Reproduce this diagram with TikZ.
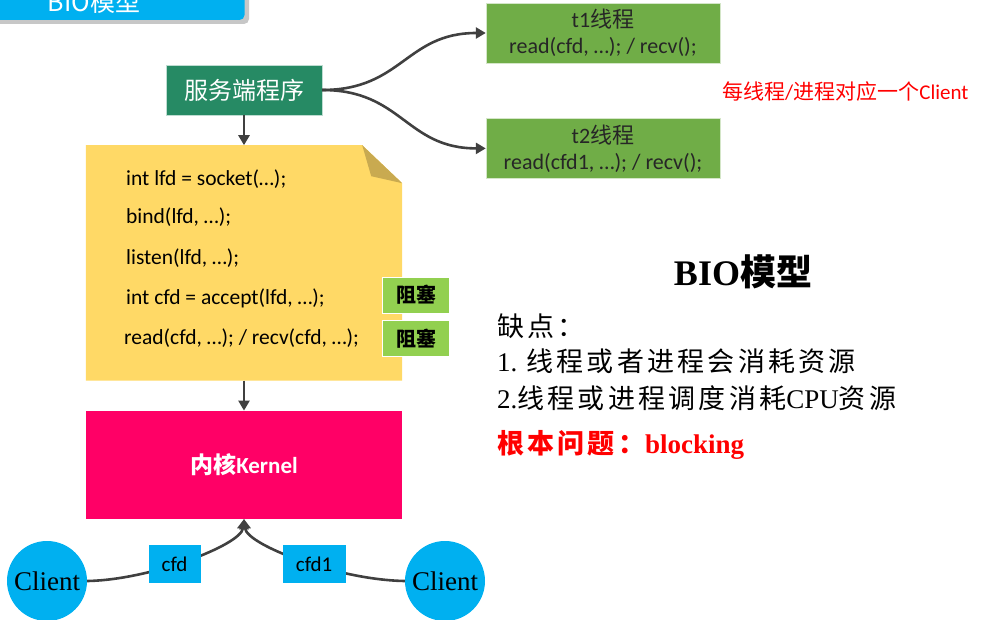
\documentclass[tikz,border=0pt]{standalone}
\usepackage{fontspec}
\setmainfont{Carlito}
\newfontfamily\cjk{Noto Sans CJK SC}
\newfontfamily\cjkwide[LetterSpace=12]{Noto Sans CJK SC}
\newfontfamily\serifft{Liberation Serif}
\usepackage{tikz}
\usetikzlibrary{
  arrows.meta,
  positioning
}
\newcommand{\zh}[1]{{\cjk #1}}
\newcommand{\zs}[1]{{\cjkwide #1}}
\newcommand{\lat}[1]{{\serifft #1}}
\definecolor{bioblue}{RGB}{0,176,240}
\definecolor{bioteal}{RGB}{38,138,100}
\definecolor{bioleaf}{RGB}{112,173,71}
\definecolor{bioyellow}{RGB}{255,217,102}
\definecolor{biofold}{RGB}{201,170,80}
\definecolor{biolime}{RGB}{146,208,80}
\definecolor{biopink}{RGB}{255,0,102}
\definecolor{biogray}{RGB}{64,64,64}
\definecolor{biored}{RGB}{255,0,0}
\tikzset{
  bioTab/.style={
    rectangle,
    rounded corners=5pt,
    fill=bioblue,
    minimum width=255pt,
    minimum height=60pt
  },
  bioServer/.style={
    rectangle,
    fill=bioteal,
    draw=white!70!bioteal,
    text=white,
    inner sep=0pt,
    minimum width=156pt,
    minimum height=50pt,
    font=\fontsize{24}{28}\selectfont
  },
  bioThread/.style={
    rectangle,
    fill=bioleaf,
    draw=white!70!bioleaf,
    text=black!85,
    inner sep=0pt,
    minimum width=234pt,
    minimum height=60pt,
    align=center,
    font=\fontsize{22}{26}\selectfont
  },
  bioBlock/.style={
    rectangle,
    fill=biolime,
    draw=white,
    inner sep=0pt,
    minimum width=67pt,
    minimum height=36pt,
    font=\fontsize{20}{22}\selectfont\bfseries
  },
  bioKernel/.style={
    rectangle,
    fill=biopink,
    text=white,
    inner sep=0pt,
    minimum width=316pt,
    minimum height=108pt,
    font=\fontsize{23}{26}\selectfont\bfseries
  },
  bioClient/.style={
    circle,
    fill=bioblue,
    inner sep=0pt,
    minimum size=80pt,
    font=\fontsize{27}{30}\selectfont
  },
  bioTag/.style={
    rectangle,
    fill=bioblue,
    inner sep=0pt,
    minimum width=52pt,
    minimum height=38pt,
    font=\fontsize{21}{24}\selectfont
  },
  bioCode/.style={
    anchor=west,
    inner sep=0pt,
    font=\fontsize{21.5}{24}\selectfont
  },
  bioText/.style={
    anchor=west,
    inner sep=0pt,
    font=\fontsize{27}{32}\selectfont
  },
  bioArrow/.style={
    -{Triangle[length=10pt,width=11pt]},
    line width=2.6pt,
    draw=biogray
  }
}

\begin{document}
\begin{tikzpicture}[x=1pt, y=-1pt]
  \useasboundingbox (0,0) rectangle (989,620);

  % tab at the top, cut by the page edge
  \begin{scope}
    \clip (0,0) rectangle (989,620);
    \fill[black!22, rounded corners=5pt] (-6,-36) rectangle (249,24);
    \node[bioTab] (tab) at (117,-10) {};
    \node[text=white, inner sep=0pt, anchor=base,
      font=\fontsize{25}{28}\selectfont] (tabtext) at (94,12) {\zh{BIO模型}};
  \end{scope}

  \node[bioServer] (server) at (244,90) {\zh{服务端程序}};

  \node[inner sep=0pt, minimum width=316pt, minimum height=235pt,
    below=30pt of server] (code) {};
  \fill[bioyellow] (code.north west) -- ([xshift=-40pt]code.north east)
    -- ([yshift=-38pt]code.north east) -- (code.south east)
    -- (code.south west) -- cycle;
  \fill[biofold] ([xshift=-40pt]code.north east)
    -- ([xshift=-31pt, yshift=-31pt]code.north east)
    -- ([yshift=-38pt]code.north east) -- cycle;

  \node[bioCode] (line1) at (126,179) {int lfd = socket(…);};
  \node[bioCode] (line2) at (126,217) {bind(lfd, …);};
  \node[bioCode] (line3) at (126,258) {listen(lfd, …);};
  \node[bioCode] (line4) at (126,298) {int cfd = accept(lfd, …);};
  \node[bioCode] (line5) at (124,338) {read(cfd, …); / recv(cfd, …);};

  \node[bioBlock] (block1) at (416,295) {\zh{阻塞}};
  \node[bioBlock, below=7pt of block1] (block2) {\zh{阻塞}};

  \node[bioKernel, below=30pt of code] (kernel) {\zh{内核}Kernel};

  \node[bioThread] (t1) at (603,33)
    {t1\zh{线程}\\read(cfd, …); / recv();};
  \node[bioThread, below=55pt of t1] (t2)
    {t2\zh{线程}\\read(cfd1, …); / recv();};

  \node[text=biored, anchor=west, inner sep=0pt,
    font=\fontsize{21}{24}\selectfont] (note) at (722,92)
    {\zh{每线程}/\zh{进程对应一个}Client};

  \node[inner sep=0pt, font=\fontsize{36}{40}\selectfont\bfseries]
    (title) at (743,272) {\lat{BIO}\zh{模型}};

  \node[bioText] (cons) at (497,326) {\zs{缺点：}};
  \node[bioText] (item1) at (497,361) {\lat{1. }\zs{线程或者进程会消耗资源}};
  \node[bioText] (item2) at (497,398)
    {\lat{2.}\zs{线程或进程调度消耗}\lat{CPU}\zs{资源}};
  \node[bioText, text=biored, font=\fontsize{27}{32}\selectfont\bfseries]
    (root) at (497,445) {\zs{根本问题：}\lat{blocking}};

  \node[bioClient] (cl) at (47,581) {\lat{Client}};
  \node[bioClient] (cr) at (445,581) {\lat{Client}};

  \draw[bioArrow] (server) -- (code);
  \draw[bioArrow] (code) -- (kernel);
  \draw[bioArrow] (server.east) .. controls +(80,0) and +(-80,0) .. (t1.west);
  \draw[bioArrow] (server.east) .. controls +(80,0) and +(-80,0) .. (t2.west);

  \draw[bioArrow] (cl.east) .. controls (150,580) and (241,545) .. (kernel.south)
    node[bioTag, pos=0.43] (cfd) {cfd};
  \draw[bioArrow] (cr.west) .. controls (338,580) and (247,545) .. (kernel.south)
    node[bioTag, minimum width=63pt, pos=0.43] (cfd1) {cfd1};
\end{tikzpicture}
\end{document}
